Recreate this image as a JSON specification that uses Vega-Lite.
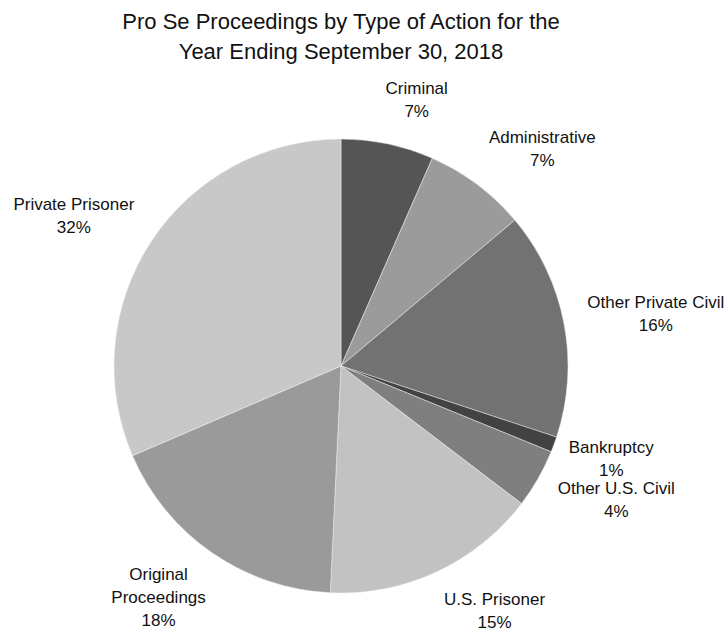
{
  "$schema": "https://vega.github.io/schema/vega-lite/v6.json",
  "width": 454,
  "height": 454,
  "autosize": {"type": "none"},
  "padding": {"left": 114, "top": 139, "right": 157, "bottom": 42},
  "background": "white",
  "title": {
    "text": ["Pro Se Proceedings by Type of Action for the", "Year Ending September 30, 2018"],
    "font": "Liberation Sans Narrow, Liberation Sans",
    "fontSize": 22,
    "fontWeight": "normal",
    "color": "#111",
    "anchor": "middle",
    "lineHeight": 30,
    "offset": 16
  },
  "data": {
    "values": [
      {"order": 1, "category": "Criminal", "value": 6.6, "label": "Criminal\n7%"},
      {"order": 2, "category": "Administrative", "value": 7.3, "label": "Administrative\n7%"},
      {"order": 3, "category": "Other Private Civil", "value": 16.2, "label": "Other Private Civil\n16%"},
      {"order": 4, "category": "Bankruptcy", "value": 1.1, "label": "Bankruptcy\n1%"},
      {"order": 5, "category": "Other U.S. Civil", "value": 4.2, "label": "Other U.S. Civil\n4%"},
      {"order": 6, "category": "U.S. Prisoner", "value": 15.4, "label": "U.S. Prisoner\n15%"},
      {"order": 7, "category": "Original Proceedings", "value": 17.8, "label": "Original\nProceedings\n18%"},
      {"order": 8, "category": "Private Prisoner", "value": 31.5, "label": "Private Prisoner\n32%"}
    ]
  },
  "encoding": {
    "theta": {"field": "value", "type": "quantitative", "stack": true},
    "order": {"field": "order", "type": "quantitative"}
  },
  "layer": [
    {
      "mark": {"type": "arc", "stroke": "#eeeeee", "strokeWidth": 0.5},
      "encoding": {
        "color": {
          "field": "category",
          "type": "nominal",
          "legend": null,
          "scale": {
            "domain": ["Criminal", "Administrative", "Other Private Civil", "Bankruptcy", "Other U.S. Civil", "U.S. Prisoner", "Original Proceedings", "Private Prisoner"],
            "range": ["#555555", "#9b9b9b", "#727272", "#424242", "#7f7f7f", "#c2c2c2", "#9a9a9a", "#c8c8c8"]
          }
        }
      }
    },
    {
      "mark": {
        "type": "text",
        "radius": 248,
        "dx": {"expr": "3.75 * max(length(split(datum.label, '\\n')[0]), length(split(datum.label, '\\n')[1])) * clamp(4 * sin(scale('theta', (datum.value_start + datum.value_end) / 2)), -1, 1)"},
        "dy": {"expr": "-11.5 * (length(split(datum.label, '\\n')) - 1) - 11.5 * length(split(datum.label, '\\n')) * cos(scale('theta', (datum.value_start + datum.value_end) / 2))"},
        "font": "Liberation Sans Narrow, Liberation Sans",
        "fontSize": 17,
        "lineBreak": "\n",
        "lineHeight": 23,
        "color": "#111",
        "align": "center",
        "baseline": "middle"
      },
      "encoding": {
        "text": {"field": "label", "type": "nominal"}
      }
    }
  ]
}
